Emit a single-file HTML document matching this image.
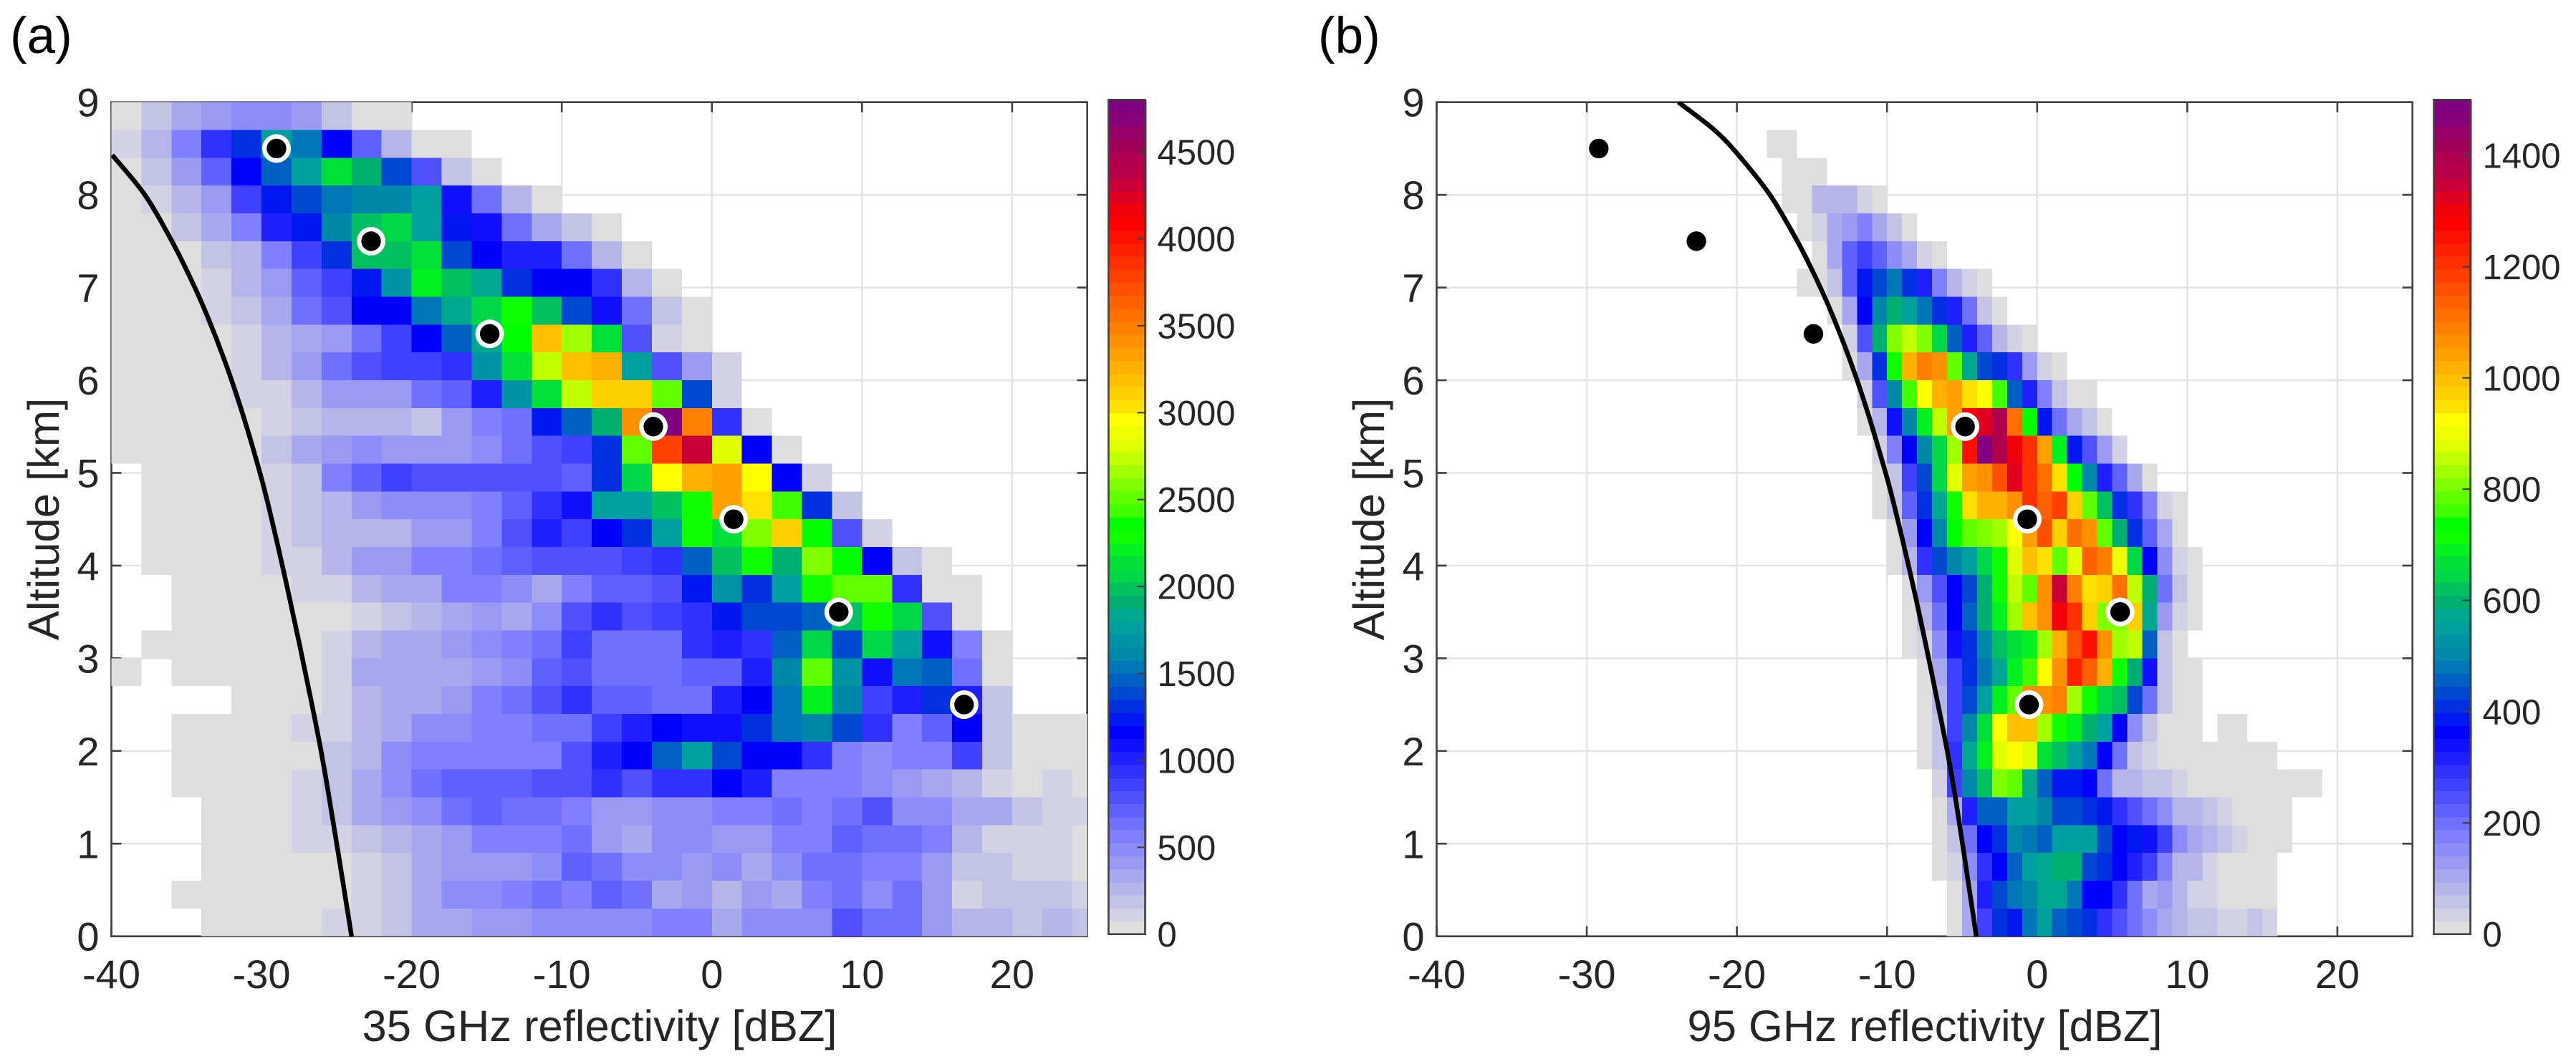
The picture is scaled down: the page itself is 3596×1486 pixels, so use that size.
<!DOCTYPE html>
<html lang="en">
<head>
<meta charset="utf-8">
<title>Reflectivity-altitude histograms at 35 and 95 GHz</title>
<style>
html,body{margin:0;padding:0;background:#fff;width:3596px;height:1486px;overflow:hidden}
svg{display:block}
text{font-family:"Liberation Sans",Arial,sans-serif;fill:#262626}
</style>
</head>
<body>
<svg id="figure" xmlns="http://www.w3.org/2000/svg" width="3596" height="1486" viewBox="0 0 3596 1486">
  <defs>
    <clipPath id="clip-a"><rect x="155.5" y="142" width="1362.5" height="1166.5"/></clipPath>
    <clipPath id="clip-b"><rect x="2005.5" y="142" width="1362.5" height="1166.5"/></clipPath>
  </defs>
  <rect x="0" y="0" width="3596" height="1486" fill="#ffffff"/>
  <g id="panel-a"></g>
  <g id="panel-b"></g>
  <text x="14" y="74" font-size="71" style="fill:#000">(a)</text>
  <text x="1840" y="74" font-size="71" style="fill:#000">(b)</text>
  <text x="837" y="1454" font-size="61.5" text-anchor="middle">35 GHz reflectivity [dBZ]</text>
  <text x="2687" y="1454" font-size="61.5" text-anchor="middle">95 GHz reflectivity [dBZ]</text>
  <text transform="translate(82 725) rotate(-90)" font-size="61.5" text-anchor="middle">Altitude [km]</text>
  <text transform="translate(1932 725) rotate(-90)" font-size="61.5" text-anchor="middle">Altitude [km]</text>
</svg>
<script>
const _ = null;

const xTickValues = [-40, -30, -20, -10, 0, 10, 20];
const xTickLabels = ['-40', '-30', '-20', '-10', '0', '10', '20'];
const yTickValues = [0, 1, 2, 3, 4, 5, 6, 7, 8, 9];
const yTickLabels = ['0', '1', '2', '3', '4', '5', '6', '7', '8', '9'];

const colorbarTicksA = [0, 500, 1000, 1500, 2000, 2500, 3000, 3500, 4000, 4500];
const colorbarLabelsA = ['0', '500', '1000', '1500', '2000', '2500', '3000', '3500', '4000', '4500'];
const colorMaxA = 4800;
const colorbarTicksB = [0, 200, 400, 600, 800, 1000, 1200, 1400];
const colorbarLabelsB = ['0', '200', '400', '600', '800', '1000', '1200', '1400'];
const colorMaxB = 1500;

/* Discrete 64-step colour map, lowest to highest */
const colormap = ['#dedede','#d2d2e4','#c3c3e6','#b5b5ea','#a8a8ef','#9a9af3','#8d8df9','#8080ff',
'#7070ff','#6060ff','#5050ff','#4040ff','#3030ff','#2020ff','#1010ff','#0000ff',
'#0018f0','#0030e0','#0048d0','#0060c4','#0078b8','#0088a8','#0094a4','#00a0a0',
'#00a890','#00b070','#00c060','#00d848','#00e038','#00f020','#10ff00','#00ff00',
'#40ff00','#60ff00','#80ff00','#a0ff00','#c0ff00','#e0ff00','#f0ff00','#ffff00',
'#ffe000','#ffd000','#ffc000','#ffb000','#ffa000','#ff9000','#ff8000','#ff7000',
'#ff6000','#ff5000','#ff4000','#ff3000','#ff2000','#ff1000','#ff0000','#f00008',
'#e00020','#c80038','#b80048','#b00050','#a00058','#980068','#880078','#800080'];

/* Histogram counts, expressed in colour-bar steps (panel a: 1 step = 75 counts, panel b: 1 step = 23.4 counts).
   Rows run from the top altitude bin down; null is an empty bin. */
const binWidthA = 2;
const binHeightKm = 0.3;
const firstDbzA = -40;
const countsA = [
[0,2,4,5,6,6,5,2,0,0],
[1,3,7,12,17,23,20,15,9,3,0,0],
[0,2,5,9,15,19,23,28,25,18,10,2,0],
[0,1,3,5,11,16,18,20,21,21,23,14,8,3,0],
[0,0,2,4,7,13,16,21,26,27,23,16,14,8,4,2,0],
[0,0,0,2,3,7,11,17,26,26,28,18,15,13,13,8,3,0],
[0,0,0,1,3,5,9,11,16,22,29,26,24,17,15,15,12,3,0],
[0,0,0,1,2,4,8,10,15,15,20,24,27,30,26,18,14,8,2,0],
[0,0,0,0,1,3,4,5,8,11,15,19,24,31,42,35,28,10,1,0],
[0,0,0,0,1,3,5,8,10,11,11,12,22,28,36,42,43,23,10,5,1],
[0,0,0,0,1,1,3,5,5,5,8,9,13,22,28,36,41,41,33,18,1],
[0,0,0,0,0,1,2,3,3,3,2,5,7,8,16,19,25,45,63,46,12,0],
[0,0,0,0,0,2,4,5,6,5,5,5,6,8,10,11,17,33,50,57,37,15,0],
[_,0,0,0,0,1,2,7,9,11,10,10,10,10,10,9,17,27,39,43,44,39,15,1],
[_,0,0,0,0,1,2,3,5,6,6,6,7,9,12,14,23,23,26,30,44,40,32,17,2],
[_,0,0,0,0,1,2,3,3,3,5,5,7,10,13,11,15,17,23,30,28,34,41,31,10,1],
[_,0,0,0,0,1,1,3,5,5,7,7,8,9,10,10,10,11,12,19,26,30,25,34,31,15,2,0],
[_,_,0,0,0,0,1,1,3,4,4,7,7,6,4,7,9,9,10,16,22,17,23,30,33,33,12,0,0],
[_,_,0,0,0,0,0,0,1,2,3,4,5,4,6,10,12,10,11,12,16,18,18,19,26,30,27,10,0],
[_,0,0,0,0,0,0,1,3,4,4,5,6,7,8,11,8,8,8,12,13,12,19,27,18,27,23,14,7,0],
[0,_,0,0,0,0,0,1,4,4,4,4,5,6,9,10,8,8,8,9,9,13,21,33,22,14,20,19,8,0],
[_,_,_,_,0,0,0,1,3,4,4,5,7,8,10,12,9,9,8,8,13,15,20,29,21,11,13,17,13,2],
[_,_,0,0,0,0,1,1,3,4,6,6,7,7,8,8,11,13,15,14,14,17,20,21,18,12,7,9,15,2,0,0,0],
[_,_,0,0,0,0,0,2,3,6,7,7,7,7,7,10,13,15,19,23,18,15,15,12,7,6,7,7,11,2,0,0,0],
[_,_,0,0,0,0,1,2,4,6,8,9,9,9,10,10,12,10,12,12,15,13,7,7,7,6,5,4,3,1,0,1,0],
[_,_,_,0,0,0,1,2,4,5,6,8,9,8,8,7,5,5,6,6,7,7,8,7,8,10,6,6,4,4,2,1,1],
[_,_,_,0,0,0,1,1,2,3,4,5,7,7,7,8,5,4,6,6,5,5,7,7,9,8,8,7,3,1,1,1,0],
[_,_,_,0,0,0,0,0,1,2,4,5,5,5,6,9,8,6,6,5,6,4,6,8,8,7,7,5,2,2,1,1,0],
[_,_,0,0,0,0,0,0,1,2,4,6,6,7,8,7,9,8,4,5,3,5,4,7,8,6,8,5,1,2,2,2,1],
[_,_,_,0,0,0,0,1,1,2,4,4,5,5,6,6,6,6,7,7,4,6,6,6,10,8,8,5,3,3,2,3,2]
];

const binWidthB = 1;
const firstDbzB = [-18,-18,-17,-17,-16,-15,-16,-14,-13,-13,-12,-12,-11,-11,-11,-10,-10,-9,-9,-9,-8,-8,-8,-8,-7,-7,-7,-7,-6,-6];
const countsB = [
[],
[0,0],
[0,0,0],
[0,0,3,3,3,1,0],
[0,1,4,5,7,4,2,0],
[0,4,9,11,9,6,4,1,0],
[0,0,2,9,16,18,20,17,13,7,3,1,0],
[0,4,15,21,25,23,20,17,13,8,2,0],
[1,10,25,34,36,34,27,19,13,9,3,1,0],
[0,4,17,30,43,46,45,33,24,18,17,12,5,1,0],
[1,10,21,32,39,43,44,40,39,32,19,13,7,2,0,0],
[0,3,14,21,29,36,44,54,56,59,47,31,16,8,4,2,0],
[1,7,15,21,27,35,53,63,59,55,51,44,29,16,10,5,1],
[0,2,11,18,27,37,44,45,49,56,51,47,40,31,21,13,9,4,0],
[0,2,9,17,24,30,40,43,43,45,51,48,50,41,33,26,17,12,7,1,0],
[0,5,15,21,31,33,34,35,39,44,49,41,47,45,33,25,17,9,4,0],
[0,3,12,18,21,23,27,30,37,42,40,33,37,48,46,38,27,15,6,1,0],
[0,5,10,15,18,25,30,36,33,45,57,46,40,41,47,36,25,8,2,0],
[0,3,8,15,19,25,29,35,42,45,55,51,41,34,34,41,24,5,1,0],
[0,1,6,14,17,21,26,28,29,35,43,49,53,45,35,36,19,2,0],
[0,4,11,17,20,24,29,32,39,45,52,48,43,30,25,14,2,0,0],
[0,3,11,18,23,29,33,45,45,46,35,30,27,26,18,8,2,0,0],
[0,2,11,21,28,39,42,42,35,30,29,25,23,15,6,2,0,0,0,_,0,0],
[0,2,12,24,29,37,39,37,28,26,23,20,15,8,2,1,0,0,0,0,0,0,0,0],
[1,11,21,26,34,33,24,19,16,16,15,8,3,3,2,2,1,0,0,0,0,0,0,0,0,0],
[0,4,13,19,19,23,23,21,18,18,17,16,12,10,8,6,3,3,2,1,0,0,0,0],
[0,2,8,15,17,21,20,19,23,23,23,18,15,16,14,11,6,4,3,2,1,0,0,0],
[0,1,6,12,15,19,23,24,25,25,18,17,15,13,11,7,3,3,1,0,0,0,0],
[0,4,13,18,20,21,24,24,20,15,15,12,8,4,5,3,1,1,0,0,0,0],
[0,4,11,17,16,20,23,19,18,17,12,10,8,6,4,3,2,2,1,1,2,1]
];

/* Black reference curves */
const curveDbzA = [-24.0,-25.6,-26.64,-28.2,-29.62,-30.45,-31.38,-32.43,-33.63,-34.73,-35.97,-37.77,-39.95];
const curveAltA = [0,1.6,2.5,3.7,4.7,5.2,5.7,6.2,6.7,7.1,7.5,8.0,8.43];
const curveDbzB = [-4.05,-5.55,-6.6,-8.15,-9.6,-10.45,-11.38,-12.43,-13.63,-14.73,-15.97,-17.8,-19.9,-21.5,-23.9];
const curveAltB = [0,1.6,2.5,3.7,4.7,5.2,5.7,6.2,6.7,7.1,7.5,8.0,8.43,8.7,9.0];

/* Circle markers, top altitude first */
const markerDbzA = [-29,-22.7,-14.8,-3.9,1.45,8.45,16.8];
const markerAltA = [8.5,7.5,6.5,5.5,4.5,3.5,2.5];
const markerHaloA = [1,1,1,1,1,1,1];
const markerDbzB = [-29.2,-22.7,-14.9,-4.8,-0.66,5.53,-0.54];
const markerAltB = [8.5,7.5,6.5,5.5,4.5,3.5,2.5];
const markerHaloB = [0,0,0,1,1,1,1];

const NS = 'http://www.w3.org/2000/svg';
const AXIS_COLOR = '#404040';
const GRID_COLOR = '#e3e3e3';

function svgEl(tag, attrs, parent) {
  const el = document.createElementNS(NS, tag);
  for (const k in attrs) el.setAttribute(k, attrs[k]);
  parent.appendChild(el);
  return el;
}

function smoothPath(pts) {
  let d = 'M' + pts[0][0].toFixed(2) + ' ' + pts[0][1].toFixed(2);
  for (let i = 0; i < pts.length - 1; i++) {
    const p0 = pts[Math.max(i - 1, 0)], p1 = pts[i], p2 = pts[i + 1], p3 = pts[Math.min(i + 2, pts.length - 1)];
    const c1x = p1[0] + (p2[0] - p0[0]) / 6, c1y = p1[1] + (p2[1] - p0[1]) / 6;
    const c2x = p2[0] - (p3[0] - p1[0]) / 6, c2y = p2[1] - (p3[1] - p1[1]) / 6;
    d += 'C' + c1x.toFixed(2) + ' ' + c1y.toFixed(2) + ' ' + c2x.toFixed(2) + ' ' + c2y.toFixed(2) + ' ' + p2[0].toFixed(2) + ' ' + p2[1].toFixed(2);
  }
  return d;
}

function drawPanel(root, left, clipId, rows, firstDbz, binWidth, curveX, curveY, mx, my, halo, cbTicks, cbLabels, cbMax) {
  const right = left + 1362.2, top = 142.7, bottom = 1307.7;
  const xScale = v => left + (v + 40) * (right - left) / 65;
  const yScale = v => bottom - v * (bottom - top) / 9;

  /* grid */
  xTickValues.forEach(v => {
    const line = svgEl('line', {x1: xScale(v), x2: xScale(v), y1: top, y2: bottom, stroke: GRID_COLOR, 'stroke-width': 2.5}, root);
    
    
  });
  yTickValues.forEach(v => {
    const line = svgEl('line', {x1: left, x2: right, y1: yScale(v), y2: yScale(v), stroke: GRID_COLOR, 'stroke-width': 2.5}, root);
    
    
  });

  /* ticks */
  xTickValues.forEach(v => {
    [[bottom, bottom - 14], [top, top + 14]].forEach(s => {
      const t = svgEl('line', {x1: xScale(v), x2: xScale(v), y1: s[0], y2: s[1], stroke: AXIS_COLOR, 'stroke-width': 2.6}, root);
      
      
    });
  });
  yTickValues.forEach(v => {
    [[left, left + 14], [right, right - 14]].forEach(s => {
      const t = svgEl('line', {x1: s[0], x2: s[1], y1: yScale(v), y2: yScale(v), stroke: AXIS_COLOR, 'stroke-width': 2.6}, root);
      
      
    });
  });

  /* axes box */
  const box = svgEl('rect', {x: left, y: top, width: right - left, height: bottom - top, fill: 'none', stroke: AXIS_COLOR, 'stroke-width': 2.6}, root);
  
  

  /* heatmap cells */
  const heat = svgEl('g', {'clip-path': 'url(#' + clipId + ')', 'shape-rendering': 'crispEdges'}, root);
  
  
  rows.forEach((row, r) => {
    const altTop = 9 - r * binHeightKm;
    const start = Array.isArray(firstDbz) ? firstDbz[r] : firstDbz;
    row.forEach((level, c) => {
      if (level === null) return;
      const d0 = start + c * binWidth;
      const x0 = xScale(d0), x1 = xScale(d0 + binWidth);
      const y0 = yScale(altTop), y1 = yScale(altTop - binHeightKm);
      const idx = Math.max(0, Math.min(colormap.length - 1, Math.round(level)));
      const cell = svgEl('rect', {x: x0, y: y0, width: x1 - x0, height: y1 - y0, fill: colormap[idx]}, heat);
      
      
    });
  });

  /* curve */
  const pts = curveX.map((v, i) => [xScale(v), yScale(curveY[i])]);
  const curveGroup = svgEl('g', {'clip-path': 'url(#' + clipId + ')'}, root);
  const curve = svgEl('path', {d: smoothPath(pts), fill: 'none', stroke: '#000', 'stroke-width': 6.5}, curveGroup);
  
  

  /* markers */
  mx.forEach((v, i) => {
    if (halo[i]) {
      const h = svgEl('circle', {cx: xScale(v), cy: yScale(my[i]), r: 20, fill: '#fff'}, root);
      
      
    }
    const m = svgEl('circle', {cx: xScale(v), cy: yScale(my[i]), r: 13.7, fill: '#000'}, root);
    
    
  });

  /* tick labels */
  xTickValues.forEach((v, i) => {
    const t = svgEl('text', {x: xScale(v), y: 1380, 'font-size': 56, 'text-anchor': 'middle'}, root);
    t.textContent = xTickLabels[i];
    
    
  });
  yTickValues.forEach((v, i) => {
    const t = svgEl('text', {x: left - 17, y: yScale(v) + 20, 'font-size': 56, 'text-anchor': 'end'}, root);
    t.textContent = yTickLabels[i];
    
    
  });

  /* colour bar */
  const cbLeft = left + 1392, cbRight = cbLeft + 51, cbTop = 139.3, cbBottom = 1304.7;
  const cbScale = v => cbBottom - v * (cbBottom - cbTop) / cbMax;
  const cb = svgEl('g', {}, root);
  
  
  const stepH = (cbBottom - cbTop) / colormap.length;
  colormap.forEach((col, i) => {
    const s = svgEl('rect', {x: cbLeft, y: cbBottom - (i + 1) * stepH, width: 53, height: stepH + 0.6, fill: col, 'shape-rendering': 'crispEdges'}, cb);
    
    
  });
  const cbBox = svgEl('rect', {x: cbLeft, y: cbTop, width: 51, height: cbBottom - cbTop, fill: 'none', stroke: AXIS_COLOR, 'stroke-width': 2.6}, cb);
  
  
  cbTicks.forEach((v, i) => {
    const t = svgEl('line', {x1: cbRight, x2: cbRight - 11, y1: cbScale(v), y2: cbScale(v), stroke: AXIS_COLOR, 'stroke-width': 2.2}, cb);
    
    
    const l = svgEl('text', {x: cbRight + 17, y: cbScale(v) + 17.5, 'font-size': 49}, cb);
    l.textContent = cbLabels[i];
    
    
  });
}

drawPanel(document.getElementById('panel-a'), 155.5, 'clip-a', countsA, firstDbzA, binWidthA,
  curveDbzA, curveAltA, markerDbzA, markerAltA, markerHaloA, colorbarTicksA, colorbarLabelsA, colorMaxA);
drawPanel(document.getElementById('panel-b'), 2005.5, 'clip-b', countsB, firstDbzB, binWidthB,
  curveDbzB, curveAltB, markerDbzB, markerAltB, markerHaloB, colorbarTicksB, colorbarLabelsB, colorMaxB);
</script>
</body>
</html>
